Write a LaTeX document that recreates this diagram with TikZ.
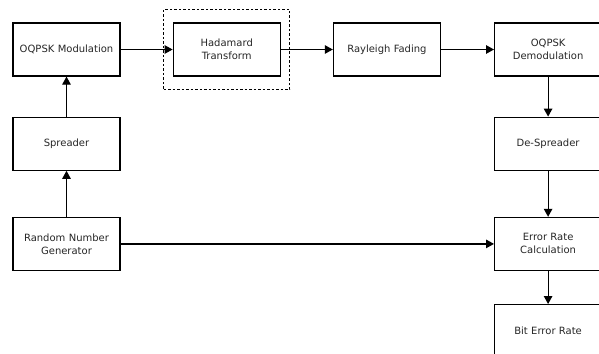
\documentclass[tikz,border=0pt]{standalone}
\usepackage{fontspec}
\setmainfont{DejaVu Sans}
\usetikzlibrary{arrows.meta,fit,positioning}

\begin{document}
\begin{tikzpicture}[x=1pt,y=-1pt,node distance=40pt and 52pt,
    block/.style={draw,line width=1.2pt,minimum width=107pt,minimum height=53pt,
      text width=104pt,align=center,inner sep=0pt,text=black!85,
      font=\fontsize{10}{13}\selectfont},
    flow/.style={line width=1.2pt,-{Triangle[length=8pt,width=8.5pt]}}]
  \useasboundingbox (0,0) rectangle (599,353);
  % transmitter chain
  \node[block] (mod) at (66.5,49.5) {OQPSK Modulation};
  \node[block,right=of mod] (had) {Hadamard\\Transform};
  \node[block,right=of had] (ray) {Rayleigh Fading};
  \node[block,right=53pt of ray] (demod) {OQPSK\\Demodulation};
  \node[block,below=of mod] (spread) {Spreader};
  \node[block,below=46pt of spread] (rng) {Random Number\\Generator};
  % receiver side
  \node[block,below=of demod] (despread) {De-Spreader};
  \node[block,below=46pt of despread] (err) {Error Rate\\Calculation};
  \node[block,below=33pt of err] (ber) {Bit Error Rate};
  \node[draw,line width=1.2pt,dash pattern=on 2.5pt off 2pt,fit=(had),
    inner xsep=9pt,inner ysep=13pt] (hadbox) {};
  % connectors
  \draw[flow] (rng) -- (spread);
  \draw[flow] (spread) -- (mod);
  \draw[flow] (mod) -- (had);
  \draw[flow] (had) -- (ray);
  \draw[flow] (ray) -- (demod);
  \draw[flow] (demod) -- (despread);
  \draw[flow] (despread) -- (err);
  \draw[flow] (rng) -- (err);
  \draw[flow] (err) -- (ber);
\end{tikzpicture}
\end{document}
